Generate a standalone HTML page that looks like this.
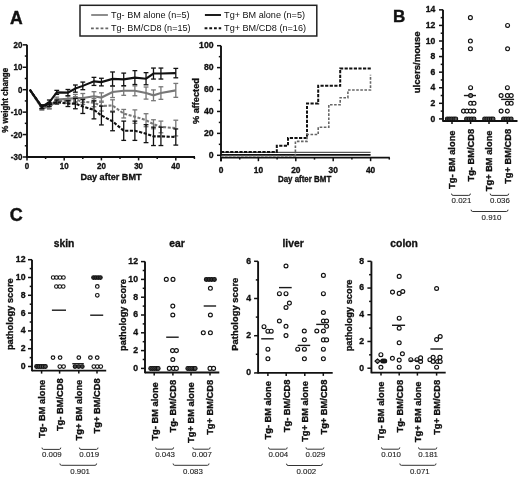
<!DOCTYPE html>
<html><head><meta charset="utf-8"><style>
html,body{margin:0;padding:0;background:#fff;}
svg{will-change:transform;filter:blur(0.3px);}
svg{display:block;font-family:"Liberation Sans", sans-serif;}
</style></head><body>
<svg width="520" height="477" viewBox="0 0 520 477">
<rect width="520" height="477" fill="#fff"/>
<text x="10.00" y="23.90" font-size="17.6" font-weight="bold" text-anchor="start" fill="#111" stroke="#111" stroke-width="0.4">A</text>
<text x="392.90" y="21.60" font-size="17.0" font-weight="bold" text-anchor="start" fill="#111" stroke="#111" stroke-width="0.4">B</text>
<text x="9.70" y="220.60" font-size="18.0" font-weight="bold" text-anchor="start" fill="#111" stroke="#111" stroke-width="0.4">C</text>
<rect x="80" y="5.3" width="236.8" height="30.7" fill="none" stroke="#222" stroke-width="1.5"/>
<line x1="91.20" y1="15.00" x2="107.90" y2="15.00" stroke="#808080" stroke-width="1.8" stroke-linecap="butt"/>
<line x1="91.00" y1="28.40" x2="108.20" y2="28.40" stroke="#666" stroke-width="1.7" stroke-dasharray="2.8,2.0" stroke-linecap="butt"/>
<line x1="204.90" y1="15.00" x2="221.00" y2="15.00" stroke="#111" stroke-width="1.9" stroke-linecap="butt"/>
<line x1="204.60" y1="28.30" x2="221.20" y2="28.30" stroke="#111" stroke-width="1.9" stroke-dasharray="2.8,1.9" stroke-linecap="butt"/>
<text x="111.00" y="18.10" font-size="9.1" font-weight="normal" text-anchor="start" fill="#111">Tg- BM alone (n=5)</text>
<text x="111.00" y="31.10" font-size="9.1" font-weight="normal" text-anchor="start" fill="#111">Tg- BM/CD8 (n=15)</text>
<text x="224.10" y="18.10" font-size="9.1" font-weight="normal" text-anchor="start" fill="#111">Tg+ BM alone (n=5)</text>
<text x="224.10" y="31.10" font-size="9.1" font-weight="normal" text-anchor="start" fill="#111">Tg+ BM/CD8 (n=16)</text>
<line x1="27.00" y1="44.84" x2="27.00" y2="157.70" stroke="#111" stroke-width="1.9" stroke-linecap="butt"/>
<line x1="26.20" y1="157.00" x2="195.00" y2="157.00" stroke="#111" stroke-width="1.9" stroke-linecap="butt"/>
<line x1="22.80" y1="156.99" x2="27.00" y2="156.99" stroke="#111" stroke-width="1.5" stroke-linecap="butt"/>
<text x="0.00" y="0.00" font-size="8.6" font-weight="bold" text-anchor="end" fill="#111" stroke="#111" stroke-width="0.33" transform="translate(22.40 159.99) scale(0.93 1)">-30</text>
<line x1="24.80" y1="145.78" x2="27.00" y2="145.78" stroke="#111" stroke-width="1.5" stroke-linecap="butt"/>
<line x1="22.80" y1="134.56" x2="27.00" y2="134.56" stroke="#111" stroke-width="1.5" stroke-linecap="butt"/>
<text x="0.00" y="0.00" font-size="8.6" font-weight="bold" text-anchor="end" fill="#111" stroke="#111" stroke-width="0.33" transform="translate(22.40 137.56) scale(0.93 1)">-20</text>
<line x1="24.80" y1="123.34" x2="27.00" y2="123.34" stroke="#111" stroke-width="1.5" stroke-linecap="butt"/>
<line x1="22.80" y1="112.13" x2="27.00" y2="112.13" stroke="#111" stroke-width="1.5" stroke-linecap="butt"/>
<text x="0.00" y="0.00" font-size="8.6" font-weight="bold" text-anchor="end" fill="#111" stroke="#111" stroke-width="0.33" transform="translate(22.40 115.13) scale(0.93 1)">-10</text>
<line x1="24.80" y1="100.92" x2="27.00" y2="100.92" stroke="#111" stroke-width="1.5" stroke-linecap="butt"/>
<line x1="22.80" y1="89.70" x2="27.00" y2="89.70" stroke="#111" stroke-width="1.5" stroke-linecap="butt"/>
<text x="0.00" y="0.00" font-size="8.6" font-weight="bold" text-anchor="end" fill="#111" stroke="#111" stroke-width="0.33" transform="translate(22.40 92.70) scale(0.93 1)">0</text>
<line x1="24.80" y1="78.48" x2="27.00" y2="78.48" stroke="#111" stroke-width="1.5" stroke-linecap="butt"/>
<line x1="22.80" y1="67.27" x2="27.00" y2="67.27" stroke="#111" stroke-width="1.5" stroke-linecap="butt"/>
<text x="0.00" y="0.00" font-size="8.6" font-weight="bold" text-anchor="end" fill="#111" stroke="#111" stroke-width="0.33" transform="translate(22.40 70.27) scale(0.93 1)">10</text>
<line x1="24.80" y1="56.06" x2="27.00" y2="56.06" stroke="#111" stroke-width="1.5" stroke-linecap="butt"/>
<line x1="22.80" y1="44.84" x2="27.00" y2="44.84" stroke="#111" stroke-width="1.5" stroke-linecap="butt"/>
<text x="0.00" y="0.00" font-size="8.6" font-weight="bold" text-anchor="end" fill="#111" stroke="#111" stroke-width="0.33" transform="translate(22.40 47.84) scale(0.93 1)">20</text>
<line x1="27.00" y1="157.00" x2="27.00" y2="160.40" stroke="#111" stroke-width="1.5" stroke-linecap="butt"/>
<text x="0.00" y="0.00" font-size="8.6" font-weight="bold" text-anchor="middle" fill="#111" stroke="#111" stroke-width="0.33" transform="translate(27.00 168.90) scale(0.93 1)">0</text>
<line x1="45.60" y1="157.00" x2="45.60" y2="159.00" stroke="#111" stroke-width="1.5" stroke-linecap="butt"/>
<line x1="64.20" y1="157.00" x2="64.20" y2="160.40" stroke="#111" stroke-width="1.5" stroke-linecap="butt"/>
<text x="0.00" y="0.00" font-size="8.6" font-weight="bold" text-anchor="middle" fill="#111" stroke="#111" stroke-width="0.33" transform="translate(64.20 168.90) scale(0.93 1)">10</text>
<line x1="82.80" y1="157.00" x2="82.80" y2="159.00" stroke="#111" stroke-width="1.5" stroke-linecap="butt"/>
<line x1="101.40" y1="157.00" x2="101.40" y2="160.40" stroke="#111" stroke-width="1.5" stroke-linecap="butt"/>
<text x="0.00" y="0.00" font-size="8.6" font-weight="bold" text-anchor="middle" fill="#111" stroke="#111" stroke-width="0.33" transform="translate(101.40 168.90) scale(0.93 1)">20</text>
<line x1="120.00" y1="157.00" x2="120.00" y2="159.00" stroke="#111" stroke-width="1.5" stroke-linecap="butt"/>
<line x1="138.60" y1="157.00" x2="138.60" y2="160.40" stroke="#111" stroke-width="1.5" stroke-linecap="butt"/>
<text x="0.00" y="0.00" font-size="8.6" font-weight="bold" text-anchor="middle" fill="#111" stroke="#111" stroke-width="0.33" transform="translate(138.60 168.90) scale(0.93 1)">30</text>
<line x1="157.20" y1="157.00" x2="157.20" y2="159.00" stroke="#111" stroke-width="1.5" stroke-linecap="butt"/>
<line x1="175.80" y1="157.00" x2="175.80" y2="160.40" stroke="#111" stroke-width="1.5" stroke-linecap="butt"/>
<text x="0.00" y="0.00" font-size="8.6" font-weight="bold" text-anchor="middle" fill="#111" stroke="#111" stroke-width="0.33" transform="translate(175.80 168.90) scale(0.93 1)">40</text>
<line x1="194.40" y1="157.00" x2="194.40" y2="159.00" stroke="#111" stroke-width="1.5" stroke-linecap="butt"/>
<text x="111.00" y="179.60" font-size="9.0" font-weight="bold" text-anchor="middle" fill="#111" stroke="#111" stroke-width="0.33" textLength="61.2" lengthAdjust="spacingAndGlyphs">Day after BMT</text>
<text x="0.00" y="0.00" font-size="8.8" font-weight="bold" text-anchor="middle" fill="#111" stroke="#111" stroke-width="0.33" transform="translate(8.20 100.30) rotate(-90) scale(0.91 1)">% weight change</text>
<line x1="41.88" y1="106.30" x2="41.88" y2="109.89" stroke="#777" stroke-width="1.3" stroke-linecap="butt"/>
<line x1="39.48" y1="106.30" x2="44.28" y2="106.30" stroke="#777" stroke-width="1.3" stroke-linecap="butt"/>
<line x1="39.48" y1="109.89" x2="44.28" y2="109.89" stroke="#777" stroke-width="1.3" stroke-linecap="butt"/>
<line x1="49.32" y1="104.50" x2="49.32" y2="108.99" stroke="#777" stroke-width="1.3" stroke-linecap="butt"/>
<line x1="46.92" y1="104.50" x2="51.72" y2="104.50" stroke="#777" stroke-width="1.3" stroke-linecap="butt"/>
<line x1="46.92" y1="108.99" x2="51.72" y2="108.99" stroke="#777" stroke-width="1.3" stroke-linecap="butt"/>
<line x1="56.76" y1="97.10" x2="56.76" y2="102.04" stroke="#777" stroke-width="1.3" stroke-linecap="butt"/>
<line x1="54.36" y1="97.10" x2="59.16" y2="97.10" stroke="#777" stroke-width="1.3" stroke-linecap="butt"/>
<line x1="54.36" y1="102.04" x2="59.16" y2="102.04" stroke="#777" stroke-width="1.3" stroke-linecap="butt"/>
<line x1="67.92" y1="95.98" x2="67.92" y2="101.81" stroke="#777" stroke-width="1.3" stroke-linecap="butt"/>
<line x1="65.52" y1="95.98" x2="70.32" y2="95.98" stroke="#777" stroke-width="1.3" stroke-linecap="butt"/>
<line x1="65.52" y1="101.81" x2="70.32" y2="101.81" stroke="#777" stroke-width="1.3" stroke-linecap="butt"/>
<line x1="75.36" y1="94.41" x2="75.36" y2="101.59" stroke="#777" stroke-width="1.3" stroke-linecap="butt"/>
<line x1="72.96" y1="94.41" x2="77.76" y2="94.41" stroke="#777" stroke-width="1.3" stroke-linecap="butt"/>
<line x1="72.96" y1="101.59" x2="77.76" y2="101.59" stroke="#777" stroke-width="1.3" stroke-linecap="butt"/>
<line x1="82.80" y1="93.51" x2="82.80" y2="102.49" stroke="#777" stroke-width="1.3" stroke-linecap="butt"/>
<line x1="80.40" y1="93.51" x2="85.20" y2="93.51" stroke="#777" stroke-width="1.3" stroke-linecap="butt"/>
<line x1="80.40" y1="102.49" x2="85.20" y2="102.49" stroke="#777" stroke-width="1.3" stroke-linecap="butt"/>
<line x1="93.96" y1="91.72" x2="93.96" y2="100.69" stroke="#777" stroke-width="1.3" stroke-linecap="butt"/>
<line x1="91.56" y1="91.72" x2="96.36" y2="91.72" stroke="#777" stroke-width="1.3" stroke-linecap="butt"/>
<line x1="91.56" y1="100.69" x2="96.36" y2="100.69" stroke="#777" stroke-width="1.3" stroke-linecap="butt"/>
<line x1="101.40" y1="92.84" x2="101.40" y2="102.26" stroke="#777" stroke-width="1.3" stroke-linecap="butt"/>
<line x1="99.00" y1="92.84" x2="103.80" y2="92.84" stroke="#777" stroke-width="1.3" stroke-linecap="butt"/>
<line x1="99.00" y1="102.26" x2="103.80" y2="102.26" stroke="#777" stroke-width="1.3" stroke-linecap="butt"/>
<line x1="112.56" y1="86.34" x2="112.56" y2="97.55" stroke="#777" stroke-width="1.3" stroke-linecap="butt"/>
<line x1="110.16" y1="86.34" x2="114.96" y2="86.34" stroke="#777" stroke-width="1.3" stroke-linecap="butt"/>
<line x1="110.16" y1="97.55" x2="114.96" y2="97.55" stroke="#777" stroke-width="1.3" stroke-linecap="butt"/>
<line x1="123.72" y1="86.11" x2="123.72" y2="95.31" stroke="#777" stroke-width="1.3" stroke-linecap="butt"/>
<line x1="121.32" y1="86.11" x2="126.12" y2="86.11" stroke="#777" stroke-width="1.3" stroke-linecap="butt"/>
<line x1="121.32" y1="95.31" x2="126.12" y2="95.31" stroke="#777" stroke-width="1.3" stroke-linecap="butt"/>
<line x1="134.88" y1="85.89" x2="134.88" y2="95.76" stroke="#777" stroke-width="1.3" stroke-linecap="butt"/>
<line x1="132.48" y1="85.89" x2="137.28" y2="85.89" stroke="#777" stroke-width="1.3" stroke-linecap="butt"/>
<line x1="132.48" y1="95.76" x2="137.28" y2="95.76" stroke="#777" stroke-width="1.3" stroke-linecap="butt"/>
<line x1="146.04" y1="87.01" x2="146.04" y2="99.12" stroke="#777" stroke-width="1.3" stroke-linecap="butt"/>
<line x1="143.64" y1="87.01" x2="148.44" y2="87.01" stroke="#777" stroke-width="1.3" stroke-linecap="butt"/>
<line x1="143.64" y1="99.12" x2="148.44" y2="99.12" stroke="#777" stroke-width="1.3" stroke-linecap="butt"/>
<line x1="153.48" y1="89.92" x2="153.48" y2="100.69" stroke="#777" stroke-width="1.3" stroke-linecap="butt"/>
<line x1="151.08" y1="89.92" x2="155.88" y2="89.92" stroke="#777" stroke-width="1.3" stroke-linecap="butt"/>
<line x1="151.08" y1="100.69" x2="155.88" y2="100.69" stroke="#777" stroke-width="1.3" stroke-linecap="butt"/>
<line x1="160.92" y1="86.78" x2="160.92" y2="99.34" stroke="#777" stroke-width="1.3" stroke-linecap="butt"/>
<line x1="158.52" y1="86.78" x2="163.32" y2="86.78" stroke="#777" stroke-width="1.3" stroke-linecap="butt"/>
<line x1="158.52" y1="99.34" x2="163.32" y2="99.34" stroke="#777" stroke-width="1.3" stroke-linecap="butt"/>
<line x1="175.80" y1="83.42" x2="175.80" y2="97.33" stroke="#777" stroke-width="1.3" stroke-linecap="butt"/>
<line x1="173.40" y1="83.42" x2="178.20" y2="83.42" stroke="#777" stroke-width="1.3" stroke-linecap="butt"/>
<line x1="173.40" y1="97.33" x2="178.20" y2="97.33" stroke="#777" stroke-width="1.3" stroke-linecap="butt"/>
<polyline points="29.79,89.70 41.88,108.09 49.32,106.75 56.76,99.57 67.92,98.90 75.36,98.00 82.80,98.00 93.96,96.20 101.40,97.55 112.56,91.94 123.72,90.71 134.88,90.82 146.04,93.06 153.48,95.31 160.92,93.06 175.80,90.37" fill="none" stroke="#777" stroke-width="2.1" stroke-linejoin="miter"/>
<line x1="41.88" y1="106.30" x2="41.88" y2="109.89" stroke="#777" stroke-width="1.3" stroke-linecap="butt"/>
<line x1="39.48" y1="106.30" x2="44.28" y2="106.30" stroke="#777" stroke-width="1.3" stroke-linecap="butt"/>
<line x1="39.48" y1="109.89" x2="44.28" y2="109.89" stroke="#777" stroke-width="1.3" stroke-linecap="butt"/>
<line x1="49.32" y1="104.95" x2="49.32" y2="108.54" stroke="#777" stroke-width="1.3" stroke-linecap="butt"/>
<line x1="46.92" y1="104.95" x2="51.72" y2="104.95" stroke="#777" stroke-width="1.3" stroke-linecap="butt"/>
<line x1="46.92" y1="108.54" x2="51.72" y2="108.54" stroke="#777" stroke-width="1.3" stroke-linecap="butt"/>
<line x1="56.76" y1="98.90" x2="56.76" y2="102.93" stroke="#777" stroke-width="1.3" stroke-linecap="butt"/>
<line x1="54.36" y1="98.90" x2="59.16" y2="98.90" stroke="#777" stroke-width="1.3" stroke-linecap="butt"/>
<line x1="54.36" y1="102.93" x2="59.16" y2="102.93" stroke="#777" stroke-width="1.3" stroke-linecap="butt"/>
<line x1="67.92" y1="98.45" x2="67.92" y2="103.38" stroke="#777" stroke-width="1.3" stroke-linecap="butt"/>
<line x1="65.52" y1="98.45" x2="70.32" y2="98.45" stroke="#777" stroke-width="1.3" stroke-linecap="butt"/>
<line x1="65.52" y1="103.38" x2="70.32" y2="103.38" stroke="#777" stroke-width="1.3" stroke-linecap="butt"/>
<line x1="75.36" y1="96.65" x2="75.36" y2="102.49" stroke="#777" stroke-width="1.3" stroke-linecap="butt"/>
<line x1="72.96" y1="96.65" x2="77.76" y2="96.65" stroke="#777" stroke-width="1.3" stroke-linecap="butt"/>
<line x1="72.96" y1="102.49" x2="77.76" y2="102.49" stroke="#777" stroke-width="1.3" stroke-linecap="butt"/>
<line x1="82.80" y1="98.67" x2="82.80" y2="104.50" stroke="#777" stroke-width="1.3" stroke-linecap="butt"/>
<line x1="80.40" y1="98.67" x2="85.20" y2="98.67" stroke="#777" stroke-width="1.3" stroke-linecap="butt"/>
<line x1="80.40" y1="104.50" x2="85.20" y2="104.50" stroke="#777" stroke-width="1.3" stroke-linecap="butt"/>
<line x1="93.96" y1="98.67" x2="93.96" y2="106.75" stroke="#777" stroke-width="1.3" stroke-linecap="butt"/>
<line x1="91.56" y1="98.67" x2="96.36" y2="98.67" stroke="#777" stroke-width="1.3" stroke-linecap="butt"/>
<line x1="91.56" y1="106.75" x2="96.36" y2="106.75" stroke="#777" stroke-width="1.3" stroke-linecap="butt"/>
<line x1="101.40" y1="101.14" x2="101.40" y2="111.01" stroke="#777" stroke-width="1.3" stroke-linecap="butt"/>
<line x1="99.00" y1="101.14" x2="103.80" y2="101.14" stroke="#777" stroke-width="1.3" stroke-linecap="butt"/>
<line x1="99.00" y1="111.01" x2="103.80" y2="111.01" stroke="#777" stroke-width="1.3" stroke-linecap="butt"/>
<line x1="112.56" y1="99.79" x2="112.56" y2="111.01" stroke="#777" stroke-width="1.3" stroke-linecap="butt"/>
<line x1="110.16" y1="99.79" x2="114.96" y2="99.79" stroke="#777" stroke-width="1.3" stroke-linecap="butt"/>
<line x1="110.16" y1="111.01" x2="114.96" y2="111.01" stroke="#777" stroke-width="1.3" stroke-linecap="butt"/>
<line x1="123.72" y1="109.44" x2="123.72" y2="117.96" stroke="#777" stroke-width="1.3" stroke-linecap="butt"/>
<line x1="121.32" y1="109.44" x2="126.12" y2="109.44" stroke="#777" stroke-width="1.3" stroke-linecap="butt"/>
<line x1="121.32" y1="117.96" x2="126.12" y2="117.96" stroke="#777" stroke-width="1.3" stroke-linecap="butt"/>
<line x1="134.88" y1="109.89" x2="134.88" y2="123.34" stroke="#777" stroke-width="1.3" stroke-linecap="butt"/>
<line x1="132.48" y1="109.89" x2="137.28" y2="109.89" stroke="#777" stroke-width="1.3" stroke-linecap="butt"/>
<line x1="132.48" y1="123.34" x2="137.28" y2="123.34" stroke="#777" stroke-width="1.3" stroke-linecap="butt"/>
<line x1="146.04" y1="113.70" x2="146.04" y2="126.71" stroke="#777" stroke-width="1.3" stroke-linecap="butt"/>
<line x1="143.64" y1="113.70" x2="148.44" y2="113.70" stroke="#777" stroke-width="1.3" stroke-linecap="butt"/>
<line x1="143.64" y1="126.71" x2="148.44" y2="126.71" stroke="#777" stroke-width="1.3" stroke-linecap="butt"/>
<line x1="153.48" y1="119.76" x2="153.48" y2="128.73" stroke="#777" stroke-width="1.3" stroke-linecap="butt"/>
<line x1="151.08" y1="119.76" x2="155.88" y2="119.76" stroke="#777" stroke-width="1.3" stroke-linecap="butt"/>
<line x1="151.08" y1="128.73" x2="155.88" y2="128.73" stroke="#777" stroke-width="1.3" stroke-linecap="butt"/>
<line x1="160.92" y1="121.10" x2="160.92" y2="132.77" stroke="#777" stroke-width="1.3" stroke-linecap="butt"/>
<line x1="158.52" y1="121.10" x2="163.32" y2="121.10" stroke="#777" stroke-width="1.3" stroke-linecap="butt"/>
<line x1="158.52" y1="132.77" x2="163.32" y2="132.77" stroke="#777" stroke-width="1.3" stroke-linecap="butt"/>
<line x1="175.80" y1="120.20" x2="175.80" y2="135.91" stroke="#777" stroke-width="1.3" stroke-linecap="butt"/>
<line x1="173.40" y1="120.20" x2="178.20" y2="120.20" stroke="#777" stroke-width="1.3" stroke-linecap="butt"/>
<line x1="173.40" y1="135.91" x2="178.20" y2="135.91" stroke="#777" stroke-width="1.3" stroke-linecap="butt"/>
<polyline points="29.79,89.70 41.88,108.09 49.32,106.75 56.76,100.92 67.92,100.92 75.36,99.57 82.80,101.59 93.96,102.71 101.40,106.07 112.56,105.40 123.72,113.70 134.88,116.62 146.04,120.20 153.48,124.24 160.92,126.93 175.80,128.06" fill="none" stroke="#777" stroke-width="2.1" stroke-dasharray="3,1.6" stroke-linejoin="miter"/>
<line x1="41.88" y1="104.95" x2="41.88" y2="108.54" stroke="#111" stroke-width="1.3" stroke-linecap="butt"/>
<line x1="39.48" y1="104.95" x2="44.28" y2="104.95" stroke="#111" stroke-width="1.3" stroke-linecap="butt"/>
<line x1="39.48" y1="108.54" x2="44.28" y2="108.54" stroke="#111" stroke-width="1.3" stroke-linecap="butt"/>
<line x1="49.32" y1="102.49" x2="49.32" y2="106.52" stroke="#111" stroke-width="1.3" stroke-linecap="butt"/>
<line x1="46.92" y1="102.49" x2="51.72" y2="102.49" stroke="#111" stroke-width="1.3" stroke-linecap="butt"/>
<line x1="46.92" y1="106.52" x2="51.72" y2="106.52" stroke="#111" stroke-width="1.3" stroke-linecap="butt"/>
<line x1="56.76" y1="100.02" x2="56.76" y2="104.06" stroke="#111" stroke-width="1.3" stroke-linecap="butt"/>
<line x1="54.36" y1="100.02" x2="59.16" y2="100.02" stroke="#111" stroke-width="1.3" stroke-linecap="butt"/>
<line x1="54.36" y1="104.06" x2="59.16" y2="104.06" stroke="#111" stroke-width="1.3" stroke-linecap="butt"/>
<line x1="67.92" y1="100.69" x2="67.92" y2="106.52" stroke="#111" stroke-width="1.3" stroke-linecap="butt"/>
<line x1="65.52" y1="100.69" x2="70.32" y2="100.69" stroke="#111" stroke-width="1.3" stroke-linecap="butt"/>
<line x1="65.52" y1="106.52" x2="70.32" y2="106.52" stroke="#111" stroke-width="1.3" stroke-linecap="butt"/>
<line x1="75.36" y1="98.45" x2="75.36" y2="108.77" stroke="#111" stroke-width="1.3" stroke-linecap="butt"/>
<line x1="72.96" y1="98.45" x2="77.76" y2="98.45" stroke="#111" stroke-width="1.3" stroke-linecap="butt"/>
<line x1="72.96" y1="108.77" x2="77.76" y2="108.77" stroke="#111" stroke-width="1.3" stroke-linecap="butt"/>
<line x1="82.80" y1="99.57" x2="82.80" y2="113.48" stroke="#111" stroke-width="1.3" stroke-linecap="butt"/>
<line x1="80.40" y1="99.57" x2="85.20" y2="99.57" stroke="#111" stroke-width="1.3" stroke-linecap="butt"/>
<line x1="80.40" y1="113.48" x2="85.20" y2="113.48" stroke="#111" stroke-width="1.3" stroke-linecap="butt"/>
<line x1="93.96" y1="100.92" x2="93.96" y2="118.86" stroke="#111" stroke-width="1.3" stroke-linecap="butt"/>
<line x1="91.56" y1="100.92" x2="96.36" y2="100.92" stroke="#111" stroke-width="1.3" stroke-linecap="butt"/>
<line x1="91.56" y1="118.86" x2="96.36" y2="118.86" stroke="#111" stroke-width="1.3" stroke-linecap="butt"/>
<line x1="101.40" y1="106.07" x2="101.40" y2="124.92" stroke="#111" stroke-width="1.3" stroke-linecap="butt"/>
<line x1="99.00" y1="106.07" x2="103.80" y2="106.07" stroke="#111" stroke-width="1.3" stroke-linecap="butt"/>
<line x1="99.00" y1="124.92" x2="103.80" y2="124.92" stroke="#111" stroke-width="1.3" stroke-linecap="butt"/>
<line x1="112.56" y1="111.91" x2="112.56" y2="130.75" stroke="#111" stroke-width="1.3" stroke-linecap="butt"/>
<line x1="110.16" y1="111.91" x2="114.96" y2="111.91" stroke="#111" stroke-width="1.3" stroke-linecap="butt"/>
<line x1="110.16" y1="130.75" x2="114.96" y2="130.75" stroke="#111" stroke-width="1.3" stroke-linecap="butt"/>
<line x1="123.72" y1="121.10" x2="123.72" y2="140.39" stroke="#111" stroke-width="1.3" stroke-linecap="butt"/>
<line x1="121.32" y1="121.10" x2="126.12" y2="121.10" stroke="#111" stroke-width="1.3" stroke-linecap="butt"/>
<line x1="121.32" y1="140.39" x2="126.12" y2="140.39" stroke="#111" stroke-width="1.3" stroke-linecap="butt"/>
<line x1="134.88" y1="121.10" x2="134.88" y2="140.39" stroke="#111" stroke-width="1.3" stroke-linecap="butt"/>
<line x1="132.48" y1="121.10" x2="137.28" y2="121.10" stroke="#111" stroke-width="1.3" stroke-linecap="butt"/>
<line x1="132.48" y1="140.39" x2="137.28" y2="140.39" stroke="#111" stroke-width="1.3" stroke-linecap="butt"/>
<line x1="146.04" y1="124.69" x2="146.04" y2="142.63" stroke="#111" stroke-width="1.3" stroke-linecap="butt"/>
<line x1="143.64" y1="124.69" x2="148.44" y2="124.69" stroke="#111" stroke-width="1.3" stroke-linecap="butt"/>
<line x1="143.64" y1="142.63" x2="148.44" y2="142.63" stroke="#111" stroke-width="1.3" stroke-linecap="butt"/>
<line x1="153.48" y1="127.16" x2="153.48" y2="145.55" stroke="#111" stroke-width="1.3" stroke-linecap="butt"/>
<line x1="151.08" y1="127.16" x2="155.88" y2="127.16" stroke="#111" stroke-width="1.3" stroke-linecap="butt"/>
<line x1="151.08" y1="145.55" x2="155.88" y2="145.55" stroke="#111" stroke-width="1.3" stroke-linecap="butt"/>
<line x1="160.92" y1="127.16" x2="160.92" y2="145.55" stroke="#111" stroke-width="1.3" stroke-linecap="butt"/>
<line x1="158.52" y1="127.16" x2="163.32" y2="127.16" stroke="#111" stroke-width="1.3" stroke-linecap="butt"/>
<line x1="158.52" y1="145.55" x2="163.32" y2="145.55" stroke="#111" stroke-width="1.3" stroke-linecap="butt"/>
<line x1="175.80" y1="128.95" x2="175.80" y2="145.10" stroke="#111" stroke-width="1.3" stroke-linecap="butt"/>
<line x1="173.40" y1="128.95" x2="178.20" y2="128.95" stroke="#111" stroke-width="1.3" stroke-linecap="butt"/>
<line x1="173.40" y1="145.10" x2="178.20" y2="145.10" stroke="#111" stroke-width="1.3" stroke-linecap="butt"/>
<polyline points="29.79,89.70 41.88,106.75 49.32,104.50 56.76,102.04 67.92,103.61 75.36,103.61 82.80,106.52 93.96,109.89 101.40,115.49 112.56,121.33 123.72,130.75 134.88,130.75 146.04,133.66 153.48,136.35 160.92,136.35 175.80,137.03" fill="none" stroke="#111" stroke-width="2.1" stroke-dasharray="3.2,1.5" stroke-linejoin="miter"/>
<line x1="41.88" y1="104.95" x2="41.88" y2="108.54" stroke="#111" stroke-width="1.3" stroke-linecap="butt"/>
<line x1="39.48" y1="104.95" x2="44.28" y2="104.95" stroke="#111" stroke-width="1.3" stroke-linecap="butt"/>
<line x1="39.48" y1="108.54" x2="44.28" y2="108.54" stroke="#111" stroke-width="1.3" stroke-linecap="butt"/>
<line x1="49.32" y1="100.02" x2="49.32" y2="104.50" stroke="#111" stroke-width="1.3" stroke-linecap="butt"/>
<line x1="46.92" y1="100.02" x2="51.72" y2="100.02" stroke="#111" stroke-width="1.3" stroke-linecap="butt"/>
<line x1="46.92" y1="104.50" x2="51.72" y2="104.50" stroke="#111" stroke-width="1.3" stroke-linecap="butt"/>
<line x1="56.76" y1="90.37" x2="56.76" y2="94.41" stroke="#111" stroke-width="1.3" stroke-linecap="butt"/>
<line x1="54.36" y1="90.37" x2="59.16" y2="90.37" stroke="#111" stroke-width="1.3" stroke-linecap="butt"/>
<line x1="54.36" y1="94.41" x2="59.16" y2="94.41" stroke="#111" stroke-width="1.3" stroke-linecap="butt"/>
<line x1="67.92" y1="89.48" x2="67.92" y2="95.76" stroke="#111" stroke-width="1.3" stroke-linecap="butt"/>
<line x1="65.52" y1="89.48" x2="70.32" y2="89.48" stroke="#111" stroke-width="1.3" stroke-linecap="butt"/>
<line x1="65.52" y1="95.76" x2="70.32" y2="95.76" stroke="#111" stroke-width="1.3" stroke-linecap="butt"/>
<line x1="75.36" y1="84.99" x2="75.36" y2="92.17" stroke="#111" stroke-width="1.3" stroke-linecap="butt"/>
<line x1="72.96" y1="84.99" x2="77.76" y2="84.99" stroke="#111" stroke-width="1.3" stroke-linecap="butt"/>
<line x1="72.96" y1="92.17" x2="77.76" y2="92.17" stroke="#111" stroke-width="1.3" stroke-linecap="butt"/>
<line x1="82.80" y1="82.07" x2="82.80" y2="89.70" stroke="#111" stroke-width="1.3" stroke-linecap="butt"/>
<line x1="80.40" y1="82.07" x2="85.20" y2="82.07" stroke="#111" stroke-width="1.3" stroke-linecap="butt"/>
<line x1="80.40" y1="89.70" x2="85.20" y2="89.70" stroke="#111" stroke-width="1.3" stroke-linecap="butt"/>
<line x1="93.96" y1="77.36" x2="93.96" y2="85.44" stroke="#111" stroke-width="1.3" stroke-linecap="butt"/>
<line x1="91.56" y1="77.36" x2="96.36" y2="77.36" stroke="#111" stroke-width="1.3" stroke-linecap="butt"/>
<line x1="91.56" y1="85.44" x2="96.36" y2="85.44" stroke="#111" stroke-width="1.3" stroke-linecap="butt"/>
<line x1="101.40" y1="78.26" x2="101.40" y2="85.89" stroke="#111" stroke-width="1.3" stroke-linecap="butt"/>
<line x1="99.00" y1="78.26" x2="103.80" y2="78.26" stroke="#111" stroke-width="1.3" stroke-linecap="butt"/>
<line x1="99.00" y1="85.89" x2="103.80" y2="85.89" stroke="#111" stroke-width="1.3" stroke-linecap="butt"/>
<line x1="112.56" y1="71.98" x2="112.56" y2="85.89" stroke="#111" stroke-width="1.3" stroke-linecap="butt"/>
<line x1="110.16" y1="71.98" x2="114.96" y2="71.98" stroke="#111" stroke-width="1.3" stroke-linecap="butt"/>
<line x1="110.16" y1="85.89" x2="114.96" y2="85.89" stroke="#111" stroke-width="1.3" stroke-linecap="butt"/>
<line x1="123.72" y1="73.10" x2="123.72" y2="85.66" stroke="#111" stroke-width="1.3" stroke-linecap="butt"/>
<line x1="121.32" y1="73.10" x2="126.12" y2="73.10" stroke="#111" stroke-width="1.3" stroke-linecap="butt"/>
<line x1="121.32" y1="85.66" x2="126.12" y2="85.66" stroke="#111" stroke-width="1.3" stroke-linecap="butt"/>
<line x1="134.88" y1="70.63" x2="134.88" y2="84.54" stroke="#111" stroke-width="1.3" stroke-linecap="butt"/>
<line x1="132.48" y1="70.63" x2="137.28" y2="70.63" stroke="#111" stroke-width="1.3" stroke-linecap="butt"/>
<line x1="132.48" y1="84.54" x2="137.28" y2="84.54" stroke="#111" stroke-width="1.3" stroke-linecap="butt"/>
<line x1="146.04" y1="72.65" x2="146.04" y2="84.77" stroke="#111" stroke-width="1.3" stroke-linecap="butt"/>
<line x1="143.64" y1="72.65" x2="148.44" y2="72.65" stroke="#111" stroke-width="1.3" stroke-linecap="butt"/>
<line x1="143.64" y1="84.77" x2="148.44" y2="84.77" stroke="#111" stroke-width="1.3" stroke-linecap="butt"/>
<line x1="153.48" y1="68.06" x2="153.48" y2="79.05" stroke="#111" stroke-width="1.3" stroke-linecap="butt"/>
<line x1="151.08" y1="68.06" x2="155.88" y2="68.06" stroke="#111" stroke-width="1.3" stroke-linecap="butt"/>
<line x1="151.08" y1="79.05" x2="155.88" y2="79.05" stroke="#111" stroke-width="1.3" stroke-linecap="butt"/>
<line x1="160.92" y1="68.06" x2="160.92" y2="79.05" stroke="#111" stroke-width="1.3" stroke-linecap="butt"/>
<line x1="158.52" y1="68.06" x2="163.32" y2="68.06" stroke="#111" stroke-width="1.3" stroke-linecap="butt"/>
<line x1="158.52" y1="79.05" x2="163.32" y2="79.05" stroke="#111" stroke-width="1.3" stroke-linecap="butt"/>
<line x1="175.80" y1="68.39" x2="175.80" y2="77.81" stroke="#111" stroke-width="1.3" stroke-linecap="butt"/>
<line x1="173.40" y1="68.39" x2="178.20" y2="68.39" stroke="#111" stroke-width="1.3" stroke-linecap="butt"/>
<line x1="173.40" y1="77.81" x2="178.20" y2="77.81" stroke="#111" stroke-width="1.3" stroke-linecap="butt"/>
<polyline points="29.79,89.70 41.88,106.75 49.32,102.26 56.76,92.39 67.92,92.62 75.36,88.58 82.80,85.89 93.96,81.40 101.40,82.07 112.56,78.93 123.72,79.38 134.88,77.59 146.04,78.71 153.48,73.55 160.92,73.55 175.80,73.10" fill="none" stroke="#111" stroke-width="2.1" stroke-linejoin="miter"/>
<line x1="221.00" y1="45.70" x2="221.00" y2="161.20" stroke="#111" stroke-width="1.9" stroke-linecap="butt"/>
<line x1="221.00" y1="157.60" x2="389.80" y2="157.60" stroke="#111" stroke-width="1.9" stroke-linecap="butt"/>
<line x1="217.00" y1="155.30" x2="221.00" y2="155.30" stroke="#111" stroke-width="1.5" stroke-linecap="butt"/>
<text x="213.60" y="157.80" font-size="8.7" font-weight="bold" text-anchor="end" fill="#111" stroke="#111" stroke-width="0.33">0</text>
<line x1="218.80" y1="144.34" x2="221.00" y2="144.34" stroke="#111" stroke-width="1.5" stroke-linecap="butt"/>
<line x1="217.00" y1="133.38" x2="221.00" y2="133.38" stroke="#111" stroke-width="1.5" stroke-linecap="butt"/>
<text x="213.60" y="135.88" font-size="8.7" font-weight="bold" text-anchor="end" fill="#111" stroke="#111" stroke-width="0.33">20</text>
<line x1="218.80" y1="122.42" x2="221.00" y2="122.42" stroke="#111" stroke-width="1.5" stroke-linecap="butt"/>
<line x1="217.00" y1="111.46" x2="221.00" y2="111.46" stroke="#111" stroke-width="1.5" stroke-linecap="butt"/>
<text x="213.60" y="113.96" font-size="8.7" font-weight="bold" text-anchor="end" fill="#111" stroke="#111" stroke-width="0.33">40</text>
<line x1="218.80" y1="100.50" x2="221.00" y2="100.50" stroke="#111" stroke-width="1.5" stroke-linecap="butt"/>
<line x1="217.00" y1="89.54" x2="221.00" y2="89.54" stroke="#111" stroke-width="1.5" stroke-linecap="butt"/>
<text x="213.60" y="92.04" font-size="8.7" font-weight="bold" text-anchor="end" fill="#111" stroke="#111" stroke-width="0.33">60</text>
<line x1="218.80" y1="78.58" x2="221.00" y2="78.58" stroke="#111" stroke-width="1.5" stroke-linecap="butt"/>
<line x1="217.00" y1="67.62" x2="221.00" y2="67.62" stroke="#111" stroke-width="1.5" stroke-linecap="butt"/>
<text x="213.60" y="70.12" font-size="8.7" font-weight="bold" text-anchor="end" fill="#111" stroke="#111" stroke-width="0.33">80</text>
<line x1="218.80" y1="56.66" x2="221.00" y2="56.66" stroke="#111" stroke-width="1.5" stroke-linecap="butt"/>
<line x1="217.00" y1="45.70" x2="221.00" y2="45.70" stroke="#111" stroke-width="1.5" stroke-linecap="butt"/>
<text x="213.60" y="48.20" font-size="8.7" font-weight="bold" text-anchor="end" fill="#111" stroke="#111" stroke-width="0.33">100</text>
<line x1="221.00" y1="157.60" x2="221.00" y2="161.20" stroke="#111" stroke-width="1.5" stroke-linecap="butt"/>
<text x="221.00" y="173.00" font-size="8.4" font-weight="bold" text-anchor="middle" fill="#111" stroke="#111" stroke-width="0.33">0</text>
<line x1="239.70" y1="157.60" x2="239.70" y2="159.60" stroke="#111" stroke-width="1.5" stroke-linecap="butt"/>
<line x1="258.40" y1="157.60" x2="258.40" y2="161.20" stroke="#111" stroke-width="1.5" stroke-linecap="butt"/>
<text x="258.40" y="173.00" font-size="8.4" font-weight="bold" text-anchor="middle" fill="#111" stroke="#111" stroke-width="0.33">10</text>
<line x1="277.10" y1="157.60" x2="277.10" y2="159.60" stroke="#111" stroke-width="1.5" stroke-linecap="butt"/>
<line x1="295.80" y1="157.60" x2="295.80" y2="161.20" stroke="#111" stroke-width="1.5" stroke-linecap="butt"/>
<text x="295.80" y="173.00" font-size="8.4" font-weight="bold" text-anchor="middle" fill="#111" stroke="#111" stroke-width="0.33">20</text>
<line x1="314.50" y1="157.60" x2="314.50" y2="159.60" stroke="#111" stroke-width="1.5" stroke-linecap="butt"/>
<line x1="333.20" y1="157.60" x2="333.20" y2="161.20" stroke="#111" stroke-width="1.5" stroke-linecap="butt"/>
<text x="333.20" y="173.00" font-size="8.4" font-weight="bold" text-anchor="middle" fill="#111" stroke="#111" stroke-width="0.33">30</text>
<line x1="351.90" y1="157.60" x2="351.90" y2="159.60" stroke="#111" stroke-width="1.5" stroke-linecap="butt"/>
<line x1="370.60" y1="157.60" x2="370.60" y2="161.20" stroke="#111" stroke-width="1.5" stroke-linecap="butt"/>
<text x="370.60" y="173.00" font-size="8.4" font-weight="bold" text-anchor="middle" fill="#111" stroke="#111" stroke-width="0.33">40</text>
<line x1="389.30" y1="157.60" x2="389.30" y2="159.60" stroke="#111" stroke-width="1.5" stroke-linecap="butt"/>
<text x="304.60" y="182.00" font-size="8.6" font-weight="bold" text-anchor="middle" fill="#111" stroke="#111" stroke-width="0.33" textLength="53.4" lengthAdjust="spacingAndGlyphs">Day after BMT</text>
<text x="199.40" y="101.10" font-size="9.2" font-weight="bold" text-anchor="middle" fill="#111" stroke="#111" stroke-width="0.33" transform="rotate(-90 199.40 101.10)">% affected</text>
<line x1="221.00" y1="152.40" x2="370.60" y2="152.40" stroke="#5a5a5a" stroke-width="1.3" stroke-linecap="butt"/>
<line x1="221.00" y1="154.80" x2="370.60" y2="154.80" stroke="#111" stroke-width="1.7" stroke-linecap="butt"/>
<line x1="221.00" y1="156.30" x2="295.80" y2="156.30" stroke="#888" stroke-width="1.0" stroke-dasharray="2.6,1.4" stroke-linecap="butt"/>
<polyline points="221.00,151.90 276.80,151.90 276.80,145.70 288.00,145.70 288.00,137.90 307.00,137.90 307.00,103.40 318.20,103.40 318.20,85.80 340.20,85.80 340.20,68.50 371.10,68.50" fill="none" stroke="#111" stroke-width="2.0" stroke-dasharray="3.2,1.4" stroke-linejoin="miter"/>
<polyline points="295.40,156.30 295.40,141.40 307.00,141.40 307.00,134.50 318.20,134.50 318.20,127.30 328.80,127.30 328.80,104.80 340.20,104.80 340.20,97.70 347.90,97.70 347.90,90.00 370.50,90.00 370.50,74.80" fill="none" stroke="#666" stroke-width="1.6" stroke-dasharray="2.6,1.5" stroke-linejoin="miter"/>
<line x1="443.00" y1="9.84" x2="443.00" y2="121.70" stroke="#111" stroke-width="1.9" stroke-linecap="butt"/>
<line x1="443.00" y1="121.00" x2="517.50" y2="121.00" stroke="#111" stroke-width="1.9" stroke-linecap="butt"/>
<line x1="439.00" y1="118.90" x2="443.00" y2="118.90" stroke="#111" stroke-width="1.5" stroke-linecap="butt"/>
<text x="435.20" y="121.50" font-size="8.6" font-weight="bold" text-anchor="end" fill="#111" stroke="#111" stroke-width="0.33">0</text>
<line x1="440.70" y1="111.11" x2="443.00" y2="111.11" stroke="#111" stroke-width="1.5" stroke-linecap="butt"/>
<line x1="439.00" y1="103.32" x2="443.00" y2="103.32" stroke="#111" stroke-width="1.5" stroke-linecap="butt"/>
<text x="435.20" y="105.92" font-size="8.6" font-weight="bold" text-anchor="end" fill="#111" stroke="#111" stroke-width="0.33">2</text>
<line x1="440.70" y1="95.53" x2="443.00" y2="95.53" stroke="#111" stroke-width="1.5" stroke-linecap="butt"/>
<line x1="439.00" y1="87.74" x2="443.00" y2="87.74" stroke="#111" stroke-width="1.5" stroke-linecap="butt"/>
<text x="435.20" y="90.34" font-size="8.6" font-weight="bold" text-anchor="end" fill="#111" stroke="#111" stroke-width="0.33">4</text>
<line x1="440.70" y1="79.95" x2="443.00" y2="79.95" stroke="#111" stroke-width="1.5" stroke-linecap="butt"/>
<line x1="439.00" y1="72.16" x2="443.00" y2="72.16" stroke="#111" stroke-width="1.5" stroke-linecap="butt"/>
<text x="435.20" y="74.76" font-size="8.6" font-weight="bold" text-anchor="end" fill="#111" stroke="#111" stroke-width="0.33">6</text>
<line x1="440.70" y1="64.37" x2="443.00" y2="64.37" stroke="#111" stroke-width="1.5" stroke-linecap="butt"/>
<line x1="439.00" y1="56.58" x2="443.00" y2="56.58" stroke="#111" stroke-width="1.5" stroke-linecap="butt"/>
<text x="435.20" y="59.18" font-size="8.6" font-weight="bold" text-anchor="end" fill="#111" stroke="#111" stroke-width="0.33">8</text>
<line x1="440.70" y1="48.79" x2="443.00" y2="48.79" stroke="#111" stroke-width="1.5" stroke-linecap="butt"/>
<line x1="439.00" y1="41.00" x2="443.00" y2="41.00" stroke="#111" stroke-width="1.5" stroke-linecap="butt"/>
<text x="435.20" y="43.60" font-size="8.6" font-weight="bold" text-anchor="end" fill="#111" stroke="#111" stroke-width="0.33">10</text>
<line x1="440.70" y1="33.21" x2="443.00" y2="33.21" stroke="#111" stroke-width="1.5" stroke-linecap="butt"/>
<line x1="439.00" y1="25.42" x2="443.00" y2="25.42" stroke="#111" stroke-width="1.5" stroke-linecap="butt"/>
<text x="435.20" y="28.02" font-size="8.6" font-weight="bold" text-anchor="end" fill="#111" stroke="#111" stroke-width="0.33">12</text>
<line x1="440.70" y1="17.63" x2="443.00" y2="17.63" stroke="#111" stroke-width="1.5" stroke-linecap="butt"/>
<line x1="439.00" y1="9.84" x2="443.00" y2="9.84" stroke="#111" stroke-width="1.5" stroke-linecap="butt"/>
<text x="435.20" y="12.44" font-size="8.6" font-weight="bold" text-anchor="end" fill="#111" stroke="#111" stroke-width="0.33">14</text>
<line x1="452.00" y1="121.00" x2="452.00" y2="124.00" stroke="#111" stroke-width="1.5" stroke-linecap="butt"/>
<line x1="470.60" y1="121.00" x2="470.60" y2="124.00" stroke="#111" stroke-width="1.5" stroke-linecap="butt"/>
<line x1="489.00" y1="121.00" x2="489.00" y2="124.00" stroke="#111" stroke-width="1.5" stroke-linecap="butt"/>
<line x1="507.40" y1="121.00" x2="507.40" y2="124.00" stroke="#111" stroke-width="1.5" stroke-linecap="butt"/>
<text x="420.30" y="62.30" font-size="9.6" font-weight="bold" text-anchor="middle" fill="#111" stroke="#111" stroke-width="0.33" transform="rotate(-90 420.30 62.30)">ulcers/mouse</text>
<circle cx="447.30" cy="118.90" r="1.9" fill="#555" stroke="#111" stroke-width="1.15"/>
<circle cx="449.50" cy="118.90" r="1.9" fill="#555" stroke="#111" stroke-width="1.15"/>
<circle cx="451.70" cy="118.90" r="1.9" fill="#555" stroke="#111" stroke-width="1.15"/>
<circle cx="453.90" cy="118.90" r="1.9" fill="#555" stroke="#111" stroke-width="1.15"/>
<circle cx="455.80" cy="118.90" r="1.9" fill="#555" stroke="#111" stroke-width="1.15"/>
<line x1="445.50" y1="118.90" x2="449.00" y2="118.90" stroke="#222" stroke-width="1.3" stroke-linecap="butt"/>
<circle cx="466.50" cy="118.90" r="1.9" fill="#555" stroke="#111" stroke-width="1.15"/>
<circle cx="469.00" cy="118.90" r="1.9" fill="#555" stroke="#111" stroke-width="1.15"/>
<circle cx="471.50" cy="118.90" r="1.9" fill="#555" stroke="#111" stroke-width="1.15"/>
<circle cx="474.00" cy="118.90" r="1.9" fill="#555" stroke="#111" stroke-width="1.15"/>
<circle cx="463.50" cy="111.11" r="1.95" fill="#fff" stroke="#111" stroke-width="1.15"/>
<circle cx="466.90" cy="111.11" r="1.95" fill="#fff" stroke="#111" stroke-width="1.15"/>
<circle cx="470.40" cy="111.11" r="1.95" fill="#fff" stroke="#111" stroke-width="1.15"/>
<circle cx="473.90" cy="111.11" r="1.95" fill="#fff" stroke="#111" stroke-width="1.15"/>
<circle cx="470.60" cy="103.32" r="1.95" fill="#fff" stroke="#111" stroke-width="1.15"/>
<circle cx="474.00" cy="103.32" r="1.95" fill="#fff" stroke="#111" stroke-width="1.15"/>
<line x1="463.90" y1="95.53" x2="476.00" y2="95.53" stroke="#1a1a1a" stroke-width="1.4" stroke-linecap="butt"/>
<circle cx="470.60" cy="95.53" r="1.95" fill="#888" stroke="#111" stroke-width="1.15"/>
<circle cx="470.60" cy="87.74" r="1.95" fill="#fff" stroke="#111" stroke-width="1.15"/>
<circle cx="470.40" cy="48.79" r="1.95" fill="#fff" stroke="#111" stroke-width="1.15"/>
<circle cx="470.40" cy="41.00" r="1.95" fill="#fff" stroke="#111" stroke-width="1.15"/>
<circle cx="470.40" cy="17.63" r="1.95" fill="#fff" stroke="#111" stroke-width="1.15"/>
<circle cx="484.60" cy="118.90" r="1.9" fill="#555" stroke="#111" stroke-width="1.15"/>
<circle cx="486.80" cy="118.90" r="1.9" fill="#555" stroke="#111" stroke-width="1.15"/>
<circle cx="489.00" cy="118.90" r="1.9" fill="#555" stroke="#111" stroke-width="1.15"/>
<circle cx="491.20" cy="118.90" r="1.9" fill="#555" stroke="#111" stroke-width="1.15"/>
<circle cx="493.10" cy="118.90" r="1.9" fill="#555" stroke="#111" stroke-width="1.15"/>
<circle cx="503.50" cy="118.90" r="1.9" fill="#555" stroke="#111" stroke-width="1.15"/>
<circle cx="506.00" cy="118.90" r="1.9" fill="#555" stroke="#111" stroke-width="1.15"/>
<circle cx="508.50" cy="118.90" r="1.9" fill="#555" stroke="#111" stroke-width="1.15"/>
<circle cx="511.20" cy="118.90" r="1.9" fill="#555" stroke="#111" stroke-width="1.15"/>
<circle cx="501.10" cy="111.11" r="1.95" fill="#fff" stroke="#111" stroke-width="1.15"/>
<circle cx="507.40" cy="111.11" r="1.95" fill="#fff" stroke="#111" stroke-width="1.15"/>
<circle cx="507.40" cy="103.32" r="1.95" fill="#fff" stroke="#111" stroke-width="1.15"/>
<circle cx="511.20" cy="103.32" r="1.95" fill="#fff" stroke="#111" stroke-width="1.15"/>
<circle cx="501.10" cy="95.53" r="1.95" fill="#fff" stroke="#111" stroke-width="1.15"/>
<circle cx="507.40" cy="95.53" r="1.95" fill="#fff" stroke="#111" stroke-width="1.15"/>
<circle cx="511.20" cy="95.53" r="1.95" fill="#fff" stroke="#111" stroke-width="1.15"/>
<circle cx="507.40" cy="87.74" r="1.95" fill="#fff" stroke="#111" stroke-width="1.15"/>
<circle cx="507.60" cy="48.79" r="1.95" fill="#fff" stroke="#111" stroke-width="1.15"/>
<circle cx="507.60" cy="25.42" r="1.95" fill="#fff" stroke="#111" stroke-width="1.15"/>
<line x1="501.10" y1="99.40" x2="514.10" y2="99.40" stroke="#1a1a1a" stroke-width="1.4" stroke-linecap="butt"/>
<text x="455.40" y="130.50" font-size="9.3" font-weight="bold" text-anchor="end" fill="#111" stroke="#111" stroke-width="0.33" transform="rotate(-90 455.40 130.50)">Tg- BM alone</text>
<text x="474.00" y="128.80" font-size="9.3" font-weight="bold" text-anchor="end" fill="#111" stroke="#111" stroke-width="0.33" transform="rotate(-90 474.00 128.80)">Tg- BM/CD8</text>
<text x="492.40" y="130.50" font-size="9.3" font-weight="bold" text-anchor="end" fill="#111" stroke="#111" stroke-width="0.33" transform="rotate(-90 492.40 130.50)">Tg+ BM alone</text>
<text x="510.80" y="128.80" font-size="9.3" font-weight="bold" text-anchor="end" fill="#111" stroke="#111" stroke-width="0.33" transform="rotate(-90 510.80 128.80)">Tg+ BM/CD8</text>
<path d="M451.50,193.60 Q451.50,195.40 453.10,195.40 L468.80,195.40 Q470.40,195.40 470.40,193.60" fill="none" stroke="#333" stroke-width="1.0"/>
<text x="461.45" y="202.50" font-size="7.9" font-weight="normal" text-anchor="middle" fill="#222" stroke="#222" stroke-width="0.12">0.021</text>
<path d="M490.20,193.60 Q490.20,195.40 491.80,195.40 L507.10,195.40 Q508.70,195.40 508.70,193.60" fill="none" stroke="#333" stroke-width="1.0"/>
<text x="499.95" y="202.50" font-size="7.9" font-weight="normal" text-anchor="middle" fill="#222" stroke="#222" stroke-width="0.12">0.036</text>
<path d="M471.10,209.70 Q471.10,211.50 472.70,211.50 L506.40,211.50 Q508.00,211.50 508.00,209.70" fill="none" stroke="#333" stroke-width="1.0"/>
<text x="491.45" y="220.20" font-size="7.9" font-weight="normal" text-anchor="middle" fill="#222" stroke="#222" stroke-width="0.12">0.910</text>
<line x1="32.00" y1="259.70" x2="32.00" y2="371.30" stroke="#111" stroke-width="1.9" stroke-linecap="butt"/>
<line x1="32.00" y1="370.60" x2="106.20" y2="370.60" stroke="#111" stroke-width="1.9" stroke-linecap="butt"/>
<line x1="28.00" y1="366.50" x2="32.00" y2="366.50" stroke="#111" stroke-width="1.5" stroke-linecap="butt"/>
<text x="25.50" y="368.90" font-size="8.7" font-weight="bold" text-anchor="end" fill="#111" stroke="#111" stroke-width="0.33">0</text>
<line x1="29.70" y1="357.60" x2="32.00" y2="357.60" stroke="#111" stroke-width="1.5" stroke-linecap="butt"/>
<line x1="28.00" y1="348.70" x2="32.00" y2="348.70" stroke="#111" stroke-width="1.5" stroke-linecap="butt"/>
<text x="25.50" y="351.10" font-size="8.7" font-weight="bold" text-anchor="end" fill="#111" stroke="#111" stroke-width="0.33">2</text>
<line x1="29.70" y1="339.80" x2="32.00" y2="339.80" stroke="#111" stroke-width="1.5" stroke-linecap="butt"/>
<line x1="28.00" y1="330.90" x2="32.00" y2="330.90" stroke="#111" stroke-width="1.5" stroke-linecap="butt"/>
<text x="25.50" y="333.30" font-size="8.7" font-weight="bold" text-anchor="end" fill="#111" stroke="#111" stroke-width="0.33">4</text>
<line x1="29.70" y1="322.00" x2="32.00" y2="322.00" stroke="#111" stroke-width="1.5" stroke-linecap="butt"/>
<line x1="28.00" y1="313.10" x2="32.00" y2="313.10" stroke="#111" stroke-width="1.5" stroke-linecap="butt"/>
<text x="25.50" y="315.50" font-size="8.7" font-weight="bold" text-anchor="end" fill="#111" stroke="#111" stroke-width="0.33">6</text>
<line x1="29.70" y1="304.20" x2="32.00" y2="304.20" stroke="#111" stroke-width="1.5" stroke-linecap="butt"/>
<line x1="28.00" y1="295.30" x2="32.00" y2="295.30" stroke="#111" stroke-width="1.5" stroke-linecap="butt"/>
<text x="25.50" y="297.70" font-size="8.7" font-weight="bold" text-anchor="end" fill="#111" stroke="#111" stroke-width="0.33">8</text>
<line x1="29.70" y1="286.40" x2="32.00" y2="286.40" stroke="#111" stroke-width="1.5" stroke-linecap="butt"/>
<line x1="28.00" y1="277.50" x2="32.00" y2="277.50" stroke="#111" stroke-width="1.5" stroke-linecap="butt"/>
<text x="25.50" y="279.90" font-size="8.7" font-weight="bold" text-anchor="end" fill="#111" stroke="#111" stroke-width="0.33">10</text>
<line x1="29.70" y1="268.60" x2="32.00" y2="268.60" stroke="#111" stroke-width="1.5" stroke-linecap="butt"/>
<line x1="28.00" y1="259.70" x2="32.00" y2="259.70" stroke="#111" stroke-width="1.5" stroke-linecap="butt"/>
<text x="25.50" y="262.10" font-size="8.7" font-weight="bold" text-anchor="end" fill="#111" stroke="#111" stroke-width="0.33">12</text>
<line x1="41.60" y1="370.60" x2="41.60" y2="373.60" stroke="#111" stroke-width="1.5" stroke-linecap="butt"/>
<line x1="59.60" y1="370.60" x2="59.60" y2="373.60" stroke="#111" stroke-width="1.5" stroke-linecap="butt"/>
<line x1="78.80" y1="370.60" x2="78.80" y2="373.60" stroke="#111" stroke-width="1.5" stroke-linecap="butt"/>
<line x1="97.00" y1="370.60" x2="97.00" y2="373.60" stroke="#111" stroke-width="1.5" stroke-linecap="butt"/>
<text x="64.00" y="246.70" font-size="10.3" font-weight="bold" text-anchor="middle" fill="#111" stroke="#111" stroke-width="0.33">skin</text>
<text x="13.00" y="314.20" font-size="9.3" font-weight="bold" text-anchor="middle" fill="#111" stroke="#111" stroke-width="0.33" transform="rotate(-90 13.00 314.20)">pathology score</text>
<text x="45.00" y="379.70" font-size="9.3" font-weight="bold" text-anchor="end" fill="#111" stroke="#111" stroke-width="0.33" transform="rotate(-90 45.00 379.70)">Tg- BM alone</text>
<text x="63.00" y="378.40" font-size="9.3" font-weight="bold" text-anchor="end" fill="#111" stroke="#111" stroke-width="0.33" transform="rotate(-90 63.00 378.40)">Tg- BM/CD8</text>
<text x="82.20" y="379.70" font-size="9.3" font-weight="bold" text-anchor="end" fill="#111" stroke="#111" stroke-width="0.33" transform="rotate(-90 82.20 379.70)">Tg+ BM alone</text>
<text x="100.40" y="378.40" font-size="9.3" font-weight="bold" text-anchor="end" fill="#111" stroke="#111" stroke-width="0.33" transform="rotate(-90 100.40 378.40)">Tg+ BM/CD8</text>
<circle cx="36.60" cy="366.50" r="1.9" fill="#555" stroke="#111" stroke-width="1.15"/>
<circle cx="38.80" cy="366.50" r="1.9" fill="#555" stroke="#111" stroke-width="1.15"/>
<circle cx="41.00" cy="366.50" r="1.9" fill="#555" stroke="#111" stroke-width="1.15"/>
<circle cx="43.20" cy="366.50" r="1.9" fill="#555" stroke="#111" stroke-width="1.15"/>
<circle cx="45.40" cy="366.50" r="1.9" fill="#555" stroke="#111" stroke-width="1.15"/>
<line x1="34.80" y1="366.50" x2="38.00" y2="366.50" stroke="#222" stroke-width="1.3" stroke-linecap="butt"/>
<circle cx="53.10" cy="277.50" r="1.75" fill="#fff" stroke="#111" stroke-width="1.05"/>
<circle cx="56.50" cy="277.50" r="1.75" fill="#fff" stroke="#111" stroke-width="1.05"/>
<circle cx="60.00" cy="277.50" r="1.75" fill="#fff" stroke="#111" stroke-width="1.05"/>
<circle cx="63.50" cy="277.50" r="1.75" fill="#fff" stroke="#111" stroke-width="1.05"/>
<circle cx="56.30" cy="286.40" r="1.75" fill="#fff" stroke="#111" stroke-width="1.05"/>
<circle cx="59.80" cy="286.40" r="1.75" fill="#fff" stroke="#111" stroke-width="1.05"/>
<circle cx="63.30" cy="286.40" r="1.75" fill="#fff" stroke="#111" stroke-width="1.05"/>
<line x1="51.90" y1="310.20" x2="66.00" y2="310.20" stroke="#1a1a1a" stroke-width="1.4" stroke-linecap="butt"/>
<circle cx="53.00" cy="357.60" r="1.8" fill="#fff" stroke="#111" stroke-width="1.15"/>
<circle cx="60.10" cy="357.60" r="1.8" fill="#fff" stroke="#111" stroke-width="1.15"/>
<circle cx="59.80" cy="366.50" r="1.8" fill="#fff" stroke="#111" stroke-width="1.15"/>
<circle cx="63.60" cy="366.50" r="1.8" fill="#fff" stroke="#111" stroke-width="1.15"/>
<line x1="72.30" y1="363.70" x2="83.80" y2="363.70" stroke="#222" stroke-width="1.4" stroke-linecap="butt"/>
<circle cx="75.00" cy="366.50" r="1.8" fill="#444" stroke="#111" stroke-width="1.15"/>
<circle cx="78.70" cy="366.50" r="1.8" fill="#444" stroke="#111" stroke-width="1.15"/>
<circle cx="82.30" cy="366.50" r="1.8" fill="#444" stroke="#111" stroke-width="1.15"/>
<circle cx="78.80" cy="357.60" r="1.8" fill="#fff" stroke="#111" stroke-width="1.15"/>
<circle cx="90.40" cy="357.60" r="1.8" fill="#fff" stroke="#111" stroke-width="1.15"/>
<circle cx="97.20" cy="357.60" r="1.8" fill="#fff" stroke="#111" stroke-width="1.15"/>
<circle cx="93.80" cy="366.50" r="1.8" fill="#fff" stroke="#111" stroke-width="1.15"/>
<circle cx="97.30" cy="366.50" r="1.8" fill="#fff" stroke="#111" stroke-width="1.15"/>
<circle cx="100.80" cy="366.50" r="1.8" fill="#fff" stroke="#111" stroke-width="1.15"/>
<circle cx="93.50" cy="277.50" r="1.8" fill="#333" stroke="#111" stroke-width="1.15"/>
<circle cx="95.80" cy="277.50" r="1.8" fill="#333" stroke="#111" stroke-width="1.15"/>
<circle cx="98.10" cy="277.50" r="1.8" fill="#333" stroke="#111" stroke-width="1.15"/>
<circle cx="100.40" cy="277.50" r="1.8" fill="#333" stroke="#111" stroke-width="1.15"/>
<circle cx="97.30" cy="286.40" r="1.8" fill="#fff" stroke="#111" stroke-width="1.15"/>
<circle cx="97.30" cy="295.30" r="1.8" fill="#fff" stroke="#111" stroke-width="1.15"/>
<line x1="90.20" y1="315.20" x2="103.20" y2="315.20" stroke="#1a1a1a" stroke-width="1.4" stroke-linecap="butt"/>
<path d="M42.00,447.60 Q42.00,449.40 43.60,449.40 L59.20,449.40 Q60.80,449.40 60.80,447.60" fill="none" stroke="#333" stroke-width="1.0"/>
<text x="51.90" y="457.40" font-size="7.9" font-weight="normal" text-anchor="middle" fill="#222" stroke="#222" stroke-width="0.12">0.009</text>
<path d="M79.40,447.60 Q79.40,449.40 81.00,449.40 L96.40,449.40 Q98.00,449.40 98.00,447.60" fill="none" stroke="#333" stroke-width="1.0"/>
<text x="89.20" y="457.40" font-size="7.9" font-weight="normal" text-anchor="middle" fill="#222" stroke="#222" stroke-width="0.12">0.019</text>
<path d="M59.90,463.50 Q59.90,465.30 61.50,465.30 L95.00,465.30 Q96.60,465.30 96.60,463.50" fill="none" stroke="#333" stroke-width="1.0"/>
<text x="80.15" y="474.00" font-size="7.9" font-weight="normal" text-anchor="middle" fill="#222" stroke="#222" stroke-width="0.12">0.901</text>
<line x1="145.00" y1="261.60" x2="145.00" y2="373.20" stroke="#111" stroke-width="1.9" stroke-linecap="butt"/>
<line x1="145.00" y1="372.50" x2="219.30" y2="372.50" stroke="#111" stroke-width="1.9" stroke-linecap="butt"/>
<line x1="141.00" y1="368.40" x2="145.00" y2="368.40" stroke="#111" stroke-width="1.5" stroke-linecap="butt"/>
<text x="138.00" y="370.80" font-size="8.7" font-weight="bold" text-anchor="end" fill="#111" stroke="#111" stroke-width="0.33">0</text>
<line x1="142.70" y1="359.50" x2="145.00" y2="359.50" stroke="#111" stroke-width="1.5" stroke-linecap="butt"/>
<line x1="141.00" y1="350.60" x2="145.00" y2="350.60" stroke="#111" stroke-width="1.5" stroke-linecap="butt"/>
<text x="138.00" y="353.00" font-size="8.7" font-weight="bold" text-anchor="end" fill="#111" stroke="#111" stroke-width="0.33">2</text>
<line x1="142.70" y1="341.70" x2="145.00" y2="341.70" stroke="#111" stroke-width="1.5" stroke-linecap="butt"/>
<line x1="141.00" y1="332.80" x2="145.00" y2="332.80" stroke="#111" stroke-width="1.5" stroke-linecap="butt"/>
<text x="138.00" y="335.20" font-size="8.7" font-weight="bold" text-anchor="end" fill="#111" stroke="#111" stroke-width="0.33">4</text>
<line x1="142.70" y1="323.90" x2="145.00" y2="323.90" stroke="#111" stroke-width="1.5" stroke-linecap="butt"/>
<line x1="141.00" y1="315.00" x2="145.00" y2="315.00" stroke="#111" stroke-width="1.5" stroke-linecap="butt"/>
<text x="138.00" y="317.40" font-size="8.7" font-weight="bold" text-anchor="end" fill="#111" stroke="#111" stroke-width="0.33">6</text>
<line x1="142.70" y1="306.10" x2="145.00" y2="306.10" stroke="#111" stroke-width="1.5" stroke-linecap="butt"/>
<line x1="141.00" y1="297.20" x2="145.00" y2="297.20" stroke="#111" stroke-width="1.5" stroke-linecap="butt"/>
<text x="138.00" y="299.60" font-size="8.7" font-weight="bold" text-anchor="end" fill="#111" stroke="#111" stroke-width="0.33">8</text>
<line x1="142.70" y1="288.30" x2="145.00" y2="288.30" stroke="#111" stroke-width="1.5" stroke-linecap="butt"/>
<line x1="141.00" y1="279.40" x2="145.00" y2="279.40" stroke="#111" stroke-width="1.5" stroke-linecap="butt"/>
<text x="138.00" y="281.80" font-size="8.7" font-weight="bold" text-anchor="end" fill="#111" stroke="#111" stroke-width="0.33">10</text>
<line x1="142.70" y1="270.50" x2="145.00" y2="270.50" stroke="#111" stroke-width="1.5" stroke-linecap="butt"/>
<line x1="141.00" y1="261.60" x2="145.00" y2="261.60" stroke="#111" stroke-width="1.5" stroke-linecap="butt"/>
<text x="138.00" y="264.00" font-size="8.7" font-weight="bold" text-anchor="end" fill="#111" stroke="#111" stroke-width="0.33">12</text>
<line x1="154.20" y1="372.50" x2="154.20" y2="375.50" stroke="#111" stroke-width="1.5" stroke-linecap="butt"/>
<line x1="172.90" y1="372.50" x2="172.90" y2="375.50" stroke="#111" stroke-width="1.5" stroke-linecap="butt"/>
<line x1="191.00" y1="372.50" x2="191.00" y2="375.50" stroke="#111" stroke-width="1.5" stroke-linecap="butt"/>
<line x1="210.00" y1="372.50" x2="210.00" y2="375.50" stroke="#111" stroke-width="1.5" stroke-linecap="butt"/>
<text x="177.00" y="246.70" font-size="10.3" font-weight="bold" text-anchor="middle" fill="#111" stroke="#111" stroke-width="0.33">ear</text>
<text x="125.80" y="315.00" font-size="9.3" font-weight="bold" text-anchor="middle" fill="#111" stroke="#111" stroke-width="0.33" transform="rotate(-90 125.80 315.00)">pathology score</text>
<text x="157.60" y="382.20" font-size="9.3" font-weight="bold" text-anchor="end" fill="#111" stroke="#111" stroke-width="0.33" transform="rotate(-90 157.60 382.20)">Tg- BM alone</text>
<text x="176.30" y="379.80" font-size="9.3" font-weight="bold" text-anchor="end" fill="#111" stroke="#111" stroke-width="0.33" transform="rotate(-90 176.30 379.80)">Tg- BM/CD8</text>
<text x="194.40" y="382.20" font-size="9.3" font-weight="bold" text-anchor="end" fill="#111" stroke="#111" stroke-width="0.33" transform="rotate(-90 194.40 382.20)">Tg+ BM alone</text>
<text x="213.40" y="379.80" font-size="9.3" font-weight="bold" text-anchor="end" fill="#111" stroke="#111" stroke-width="0.33" transform="rotate(-90 213.40 379.80)">Tg+ BM/CD8</text>
<circle cx="150.70" cy="368.40" r="1.9" fill="#555" stroke="#111" stroke-width="1.15"/>
<circle cx="152.70" cy="368.40" r="1.9" fill="#555" stroke="#111" stroke-width="1.15"/>
<circle cx="154.70" cy="368.40" r="1.9" fill="#555" stroke="#111" stroke-width="1.15"/>
<circle cx="156.70" cy="368.40" r="1.9" fill="#555" stroke="#111" stroke-width="1.15"/>
<circle cx="158.20" cy="368.40" r="1.9" fill="#555" stroke="#111" stroke-width="1.15"/>
<circle cx="166.30" cy="279.40" r="1.95" fill="#fff" stroke="#111" stroke-width="1.15"/>
<circle cx="173.00" cy="279.40" r="1.95" fill="#fff" stroke="#111" stroke-width="1.15"/>
<circle cx="172.80" cy="306.10" r="1.95" fill="#fff" stroke="#111" stroke-width="1.15"/>
<circle cx="172.80" cy="315.00" r="1.95" fill="#fff" stroke="#111" stroke-width="1.15"/>
<line x1="166.20" y1="337.20" x2="178.70" y2="337.20" stroke="#1a1a1a" stroke-width="1.4" stroke-linecap="butt"/>
<circle cx="172.50" cy="350.60" r="1.95" fill="#fff" stroke="#111" stroke-width="1.15"/>
<circle cx="176.40" cy="350.60" r="1.95" fill="#fff" stroke="#111" stroke-width="1.15"/>
<circle cx="172.80" cy="359.50" r="1.95" fill="#fff" stroke="#111" stroke-width="1.15"/>
<circle cx="169.30" cy="368.40" r="1.95" fill="#fff" stroke="#111" stroke-width="1.15"/>
<circle cx="173.40" cy="368.40" r="1.95" fill="#fff" stroke="#111" stroke-width="1.15"/>
<circle cx="176.40" cy="368.40" r="1.95" fill="#fff" stroke="#111" stroke-width="1.15"/>
<circle cx="187.80" cy="368.40" r="1.9" fill="#555" stroke="#111" stroke-width="1.15"/>
<circle cx="189.80" cy="368.40" r="1.9" fill="#555" stroke="#111" stroke-width="1.15"/>
<circle cx="191.80" cy="368.40" r="1.9" fill="#555" stroke="#111" stroke-width="1.15"/>
<circle cx="193.80" cy="368.40" r="1.9" fill="#555" stroke="#111" stroke-width="1.15"/>
<circle cx="195.20" cy="368.40" r="1.9" fill="#555" stroke="#111" stroke-width="1.15"/>
<circle cx="206.30" cy="279.40" r="1.9" fill="#333" stroke="#111" stroke-width="1.15"/>
<circle cx="209.00" cy="279.40" r="1.9" fill="#333" stroke="#111" stroke-width="1.15"/>
<circle cx="211.70" cy="279.40" r="1.9" fill="#333" stroke="#111" stroke-width="1.15"/>
<circle cx="214.40" cy="279.40" r="1.9" fill="#333" stroke="#111" stroke-width="1.15"/>
<circle cx="210.40" cy="288.30" r="1.95" fill="#fff" stroke="#111" stroke-width="1.15"/>
<circle cx="210.40" cy="315.00" r="1.95" fill="#fff" stroke="#111" stroke-width="1.15"/>
<line x1="203.70" y1="306.00" x2="216.10" y2="306.00" stroke="#1a1a1a" stroke-width="1.4" stroke-linecap="butt"/>
<circle cx="203.30" cy="332.80" r="1.95" fill="#fff" stroke="#111" stroke-width="1.15"/>
<circle cx="210.40" cy="332.80" r="1.95" fill="#fff" stroke="#111" stroke-width="1.15"/>
<circle cx="210.00" cy="368.40" r="1.95" fill="#fff" stroke="#111" stroke-width="1.15"/>
<circle cx="213.60" cy="368.40" r="1.95" fill="#fff" stroke="#111" stroke-width="1.15"/>
<path d="M155.60,447.40 Q155.60,449.20 157.20,449.20 L172.00,449.20 Q173.60,449.20 173.60,447.40" fill="none" stroke="#333" stroke-width="1.0"/>
<text x="165.10" y="457.20" font-size="7.9" font-weight="normal" text-anchor="middle" fill="#222" stroke="#222" stroke-width="0.12">0.043</text>
<path d="M192.80,447.40 Q192.80,449.20 194.40,449.20 L208.50,449.20 Q210.10,449.20 210.10,447.40" fill="none" stroke="#333" stroke-width="1.0"/>
<text x="201.95" y="457.20" font-size="7.9" font-weight="normal" text-anchor="middle" fill="#222" stroke="#222" stroke-width="0.12">0.007</text>
<path d="M173.10,463.50 Q173.10,465.30 174.70,465.30 L207.40,465.30 Q209.00,465.30 209.00,463.50" fill="none" stroke="#333" stroke-width="1.0"/>
<text x="192.95" y="474.00" font-size="7.9" font-weight="normal" text-anchor="middle" fill="#222" stroke="#222" stroke-width="0.12">0.083</text>
<line x1="258.10" y1="261.30" x2="258.10" y2="373.60" stroke="#111" stroke-width="1.9" stroke-linecap="butt"/>
<line x1="258.10" y1="372.90" x2="332.70" y2="372.90" stroke="#111" stroke-width="1.9" stroke-linecap="butt"/>
<line x1="254.10" y1="372.90" x2="258.10" y2="372.90" stroke="#111" stroke-width="1.5" stroke-linecap="butt"/>
<text x="251.20" y="375.30" font-size="8.7" font-weight="bold" text-anchor="end" fill="#111" stroke="#111" stroke-width="0.33">0</text>
<line x1="255.80" y1="354.30" x2="258.10" y2="354.30" stroke="#111" stroke-width="1.5" stroke-linecap="butt"/>
<line x1="254.10" y1="335.70" x2="258.10" y2="335.70" stroke="#111" stroke-width="1.5" stroke-linecap="butt"/>
<text x="251.20" y="338.10" font-size="8.7" font-weight="bold" text-anchor="end" fill="#111" stroke="#111" stroke-width="0.33">2</text>
<line x1="255.80" y1="317.10" x2="258.10" y2="317.10" stroke="#111" stroke-width="1.5" stroke-linecap="butt"/>
<line x1="254.10" y1="298.50" x2="258.10" y2="298.50" stroke="#111" stroke-width="1.5" stroke-linecap="butt"/>
<text x="251.20" y="300.90" font-size="8.7" font-weight="bold" text-anchor="end" fill="#111" stroke="#111" stroke-width="0.33">4</text>
<line x1="255.80" y1="279.90" x2="258.10" y2="279.90" stroke="#111" stroke-width="1.5" stroke-linecap="butt"/>
<line x1="254.10" y1="261.30" x2="258.10" y2="261.30" stroke="#111" stroke-width="1.5" stroke-linecap="butt"/>
<text x="251.20" y="263.70" font-size="8.7" font-weight="bold" text-anchor="end" fill="#111" stroke="#111" stroke-width="0.33">6</text>
<line x1="267.90" y1="372.90" x2="267.90" y2="375.90" stroke="#111" stroke-width="1.5" stroke-linecap="butt"/>
<line x1="286.20" y1="372.90" x2="286.20" y2="375.90" stroke="#111" stroke-width="1.5" stroke-linecap="butt"/>
<line x1="304.80" y1="372.90" x2="304.80" y2="375.90" stroke="#111" stroke-width="1.5" stroke-linecap="butt"/>
<line x1="323.30" y1="372.90" x2="323.30" y2="375.90" stroke="#111" stroke-width="1.5" stroke-linecap="butt"/>
<text x="293.10" y="246.70" font-size="10.3" font-weight="bold" text-anchor="middle" fill="#111" stroke="#111" stroke-width="0.33">liver</text>
<text x="238.30" y="314.20" font-size="9.4" font-weight="bold" text-anchor="middle" fill="#111" stroke="#111" stroke-width="0.33" transform="rotate(-90 238.30 314.20)">Pathology score</text>
<text x="271.30" y="381.10" font-size="9.3" font-weight="bold" text-anchor="end" fill="#111" stroke="#111" stroke-width="0.33" transform="rotate(-90 271.30 381.10)">Tg- BM alone</text>
<text x="289.60" y="379.50" font-size="9.3" font-weight="bold" text-anchor="end" fill="#111" stroke="#111" stroke-width="0.33" transform="rotate(-90 289.60 379.50)">Tg- BM/CD8</text>
<text x="308.20" y="381.10" font-size="9.3" font-weight="bold" text-anchor="end" fill="#111" stroke="#111" stroke-width="0.33" transform="rotate(-90 308.20 381.10)">Tg+ BM alone</text>
<text x="326.70" y="379.50" font-size="9.3" font-weight="bold" text-anchor="end" fill="#111" stroke="#111" stroke-width="0.33" transform="rotate(-90 326.70 379.50)">Tg+ BM/CD8</text>
<circle cx="264.00" cy="326.70" r="1.95" fill="#fff" stroke="#111" stroke-width="1.15"/>
<circle cx="267.90" cy="331.20" r="1.95" fill="#fff" stroke="#111" stroke-width="1.15"/>
<circle cx="271.20" cy="331.20" r="1.95" fill="#fff" stroke="#111" stroke-width="1.15"/>
<circle cx="267.90" cy="349.20" r="1.95" fill="#fff" stroke="#111" stroke-width="1.15"/>
<circle cx="267.90" cy="358.80" r="1.95" fill="#fff" stroke="#111" stroke-width="1.15"/>
<line x1="261.20" y1="338.80" x2="273.70" y2="338.80" stroke="#1a1a1a" stroke-width="1.4" stroke-linecap="butt"/>
<circle cx="286.00" cy="266.00" r="1.95" fill="#fff" stroke="#111" stroke-width="1.15"/>
<circle cx="279.40" cy="293.70" r="1.95" fill="#fff" stroke="#111" stroke-width="1.15"/>
<circle cx="286.00" cy="293.70" r="1.95" fill="#fff" stroke="#111" stroke-width="1.15"/>
<circle cx="289.40" cy="303.10" r="1.95" fill="#fff" stroke="#111" stroke-width="1.15"/>
<circle cx="286.00" cy="307.50" r="1.95" fill="#fff" stroke="#111" stroke-width="1.15"/>
<circle cx="279.40" cy="321.00" r="1.95" fill="#fff" stroke="#111" stroke-width="1.15"/>
<circle cx="286.00" cy="326.30" r="1.95" fill="#fff" stroke="#111" stroke-width="1.15"/>
<circle cx="286.00" cy="335.60" r="1.95" fill="#fff" stroke="#111" stroke-width="1.15"/>
<line x1="279.00" y1="287.60" x2="291.70" y2="287.60" stroke="#1a1a1a" stroke-width="1.4" stroke-linecap="butt"/>
<circle cx="304.30" cy="331.00" r="1.95" fill="#fff" stroke="#111" stroke-width="1.15"/>
<circle cx="304.40" cy="339.80" r="1.95" fill="#fff" stroke="#111" stroke-width="1.15"/>
<circle cx="297.70" cy="349.20" r="1.95" fill="#fff" stroke="#111" stroke-width="1.15"/>
<circle cx="304.40" cy="349.20" r="1.95" fill="#fff" stroke="#111" stroke-width="1.15"/>
<circle cx="304.40" cy="358.80" r="1.95" fill="#fff" stroke="#111" stroke-width="1.15"/>
<line x1="297.70" y1="345.40" x2="310.20" y2="345.40" stroke="#1a1a1a" stroke-width="1.4" stroke-linecap="butt"/>
<circle cx="323.40" cy="275.40" r="1.95" fill="#fff" stroke="#111" stroke-width="1.15"/>
<circle cx="323.40" cy="293.70" r="1.95" fill="#fff" stroke="#111" stroke-width="1.15"/>
<circle cx="323.40" cy="312.50" r="1.95" fill="#fff" stroke="#111" stroke-width="1.15"/>
<circle cx="323.40" cy="321.00" r="1.95" fill="#fff" stroke="#111" stroke-width="1.15"/>
<circle cx="326.60" cy="321.00" r="1.95" fill="#fff" stroke="#111" stroke-width="1.15"/>
<circle cx="326.60" cy="326.30" r="1.95" fill="#fff" stroke="#111" stroke-width="1.15"/>
<circle cx="316.80" cy="331.00" r="1.95" fill="#fff" stroke="#111" stroke-width="1.15"/>
<circle cx="323.40" cy="331.00" r="1.95" fill="#fff" stroke="#111" stroke-width="1.15"/>
<circle cx="323.40" cy="339.90" r="1.95" fill="#fff" stroke="#111" stroke-width="1.15"/>
<circle cx="326.60" cy="339.90" r="1.95" fill="#fff" stroke="#111" stroke-width="1.15"/>
<circle cx="323.40" cy="349.20" r="1.95" fill="#fff" stroke="#111" stroke-width="1.15"/>
<circle cx="323.40" cy="358.80" r="1.95" fill="#fff" stroke="#111" stroke-width="1.15"/>
<line x1="316.20" y1="324.40" x2="324.70" y2="324.40" stroke="#1a1a1a" stroke-width="1.4" stroke-linecap="butt"/>
<path d="M268.50,447.40 Q268.50,449.20 270.10,449.20 L285.60,449.20 Q287.20,449.20 287.20,447.40" fill="none" stroke="#333" stroke-width="1.0"/>
<text x="278.35" y="457.20" font-size="7.9" font-weight="normal" text-anchor="middle" fill="#222" stroke="#222" stroke-width="0.12">0.004</text>
<path d="M306.00,447.40 Q306.00,449.20 307.60,449.20 L322.30,449.20 Q323.90,449.20 323.90,447.40" fill="none" stroke="#333" stroke-width="1.0"/>
<text x="315.45" y="457.20" font-size="7.9" font-weight="normal" text-anchor="middle" fill="#222" stroke="#222" stroke-width="0.12">0.029</text>
<path d="M286.50,463.70 Q286.50,465.50 288.10,465.50 L320.80,465.50 Q322.40,465.50 322.40,463.70" fill="none" stroke="#333" stroke-width="1.0"/>
<text x="306.35" y="474.00" font-size="7.9" font-weight="normal" text-anchor="middle" fill="#222" stroke="#222" stroke-width="0.12">0.002</text>
<line x1="371.40" y1="261.32" x2="371.40" y2="373.30" stroke="#111" stroke-width="1.9" stroke-linecap="butt"/>
<line x1="371.40" y1="372.60" x2="445.70" y2="372.60" stroke="#111" stroke-width="1.9" stroke-linecap="butt"/>
<line x1="367.40" y1="368.20" x2="371.40" y2="368.20" stroke="#111" stroke-width="1.5" stroke-linecap="butt"/>
<text x="364.00" y="370.60" font-size="8.7" font-weight="bold" text-anchor="end" fill="#111" stroke="#111" stroke-width="0.33">0</text>
<line x1="369.10" y1="354.84" x2="371.40" y2="354.84" stroke="#111" stroke-width="1.5" stroke-linecap="butt"/>
<line x1="367.40" y1="341.48" x2="371.40" y2="341.48" stroke="#111" stroke-width="1.5" stroke-linecap="butt"/>
<text x="364.00" y="343.88" font-size="8.7" font-weight="bold" text-anchor="end" fill="#111" stroke="#111" stroke-width="0.33">2</text>
<line x1="369.10" y1="328.12" x2="371.40" y2="328.12" stroke="#111" stroke-width="1.5" stroke-linecap="butt"/>
<line x1="367.40" y1="314.76" x2="371.40" y2="314.76" stroke="#111" stroke-width="1.5" stroke-linecap="butt"/>
<text x="364.00" y="317.16" font-size="8.7" font-weight="bold" text-anchor="end" fill="#111" stroke="#111" stroke-width="0.33">4</text>
<line x1="369.10" y1="301.40" x2="371.40" y2="301.40" stroke="#111" stroke-width="1.5" stroke-linecap="butt"/>
<line x1="367.40" y1="288.04" x2="371.40" y2="288.04" stroke="#111" stroke-width="1.5" stroke-linecap="butt"/>
<text x="364.00" y="290.44" font-size="8.7" font-weight="bold" text-anchor="end" fill="#111" stroke="#111" stroke-width="0.33">6</text>
<line x1="369.10" y1="274.68" x2="371.40" y2="274.68" stroke="#111" stroke-width="1.5" stroke-linecap="butt"/>
<line x1="367.40" y1="261.32" x2="371.40" y2="261.32" stroke="#111" stroke-width="1.5" stroke-linecap="butt"/>
<text x="364.00" y="263.72" font-size="8.7" font-weight="bold" text-anchor="end" fill="#111" stroke="#111" stroke-width="0.33">8</text>
<line x1="381.00" y1="372.60" x2="381.00" y2="375.60" stroke="#111" stroke-width="1.5" stroke-linecap="butt"/>
<line x1="399.20" y1="372.60" x2="399.20" y2="375.60" stroke="#111" stroke-width="1.5" stroke-linecap="butt"/>
<line x1="417.40" y1="372.60" x2="417.40" y2="375.60" stroke="#111" stroke-width="1.5" stroke-linecap="butt"/>
<line x1="436.60" y1="372.60" x2="436.60" y2="375.60" stroke="#111" stroke-width="1.5" stroke-linecap="butt"/>
<text x="404.10" y="246.70" font-size="10.3" font-weight="bold" text-anchor="middle" fill="#111" stroke="#111" stroke-width="0.33">colon</text>
<text x="351.60" y="315.40" font-size="9.3" font-weight="bold" text-anchor="middle" fill="#111" stroke="#111" stroke-width="0.33" transform="rotate(-90 351.60 315.40)">pathology score</text>
<text x="384.40" y="381.50" font-size="9.3" font-weight="bold" text-anchor="end" fill="#111" stroke="#111" stroke-width="0.33" transform="rotate(-90 384.40 381.50)">Tg- BM alone</text>
<text x="402.60" y="379.80" font-size="9.3" font-weight="bold" text-anchor="end" fill="#111" stroke="#111" stroke-width="0.33" transform="rotate(-90 402.60 379.80)">Tg- BM/CD8</text>
<text x="420.80" y="381.50" font-size="9.3" font-weight="bold" text-anchor="end" fill="#111" stroke="#111" stroke-width="0.33" transform="rotate(-90 420.80 381.50)">Tg+ BM alone</text>
<text x="440.00" y="379.80" font-size="9.3" font-weight="bold" text-anchor="end" fill="#111" stroke="#111" stroke-width="0.33" transform="rotate(-90 440.00 379.80)">Tg+ BM/CD8</text>
<circle cx="380.90" cy="354.70" r="1.95" fill="#fff" stroke="#111" stroke-width="1.15"/>
<circle cx="382.80" cy="361.00" r="1.95" fill="#222" stroke="#111" stroke-width="1.15"/>
<circle cx="384.70" cy="361.00" r="1.95" fill="#222" stroke="#111" stroke-width="1.15"/>
<line x1="375.00" y1="361.00" x2="386.50" y2="361.00" stroke="#1a1a1a" stroke-width="1.4" stroke-linecap="butt"/>
<polygon points="374.9,361.1 377.5,358.8 380.1,361.1 377.5,363.5" fill="#8a8a8a" stroke="#111" stroke-width="1.1" stroke-linejoin="round"/>
<circle cx="380.90" cy="367.30" r="1.95" fill="#fff" stroke="#111" stroke-width="1.15"/>
<circle cx="399.20" cy="276.40" r="1.95" fill="#fff" stroke="#111" stroke-width="1.15"/>
<circle cx="392.50" cy="292.10" r="1.95" fill="#fff" stroke="#111" stroke-width="1.15"/>
<circle cx="399.20" cy="293.40" r="1.95" fill="#fff" stroke="#111" stroke-width="1.15"/>
<circle cx="402.80" cy="291.50" r="1.95" fill="#fff" stroke="#111" stroke-width="1.15"/>
<circle cx="399.20" cy="318.20" r="1.95" fill="#fff" stroke="#111" stroke-width="1.15"/>
<circle cx="399.20" cy="328.20" r="1.95" fill="#fff" stroke="#111" stroke-width="1.15"/>
<circle cx="399.20" cy="342.80" r="1.95" fill="#fff" stroke="#111" stroke-width="1.15"/>
<circle cx="402.40" cy="353.80" r="1.95" fill="#fff" stroke="#111" stroke-width="1.15"/>
<circle cx="392.40" cy="358.30" r="1.95" fill="#fff" stroke="#111" stroke-width="1.15"/>
<circle cx="399.20" cy="360.10" r="1.95" fill="#fff" stroke="#111" stroke-width="1.15"/>
<circle cx="399.20" cy="367.20" r="1.95" fill="#fff" stroke="#111" stroke-width="1.15"/>
<line x1="392.00" y1="325.30" x2="405.10" y2="325.30" stroke="#1a1a1a" stroke-width="1.4" stroke-linecap="butt"/>
<circle cx="410.80" cy="359.70" r="1.95" fill="#fff" stroke="#111" stroke-width="1.15"/>
<circle cx="417.00" cy="359.70" r="1.95" fill="#fff" stroke="#111" stroke-width="1.15"/>
<circle cx="420.60" cy="357.90" r="1.95" fill="#fff" stroke="#111" stroke-width="1.15"/>
<circle cx="420.60" cy="361.50" r="1.95" fill="#fff" stroke="#111" stroke-width="1.15"/>
<circle cx="417.40" cy="367.20" r="1.95" fill="#fff" stroke="#111" stroke-width="1.15"/>
<line x1="410.00" y1="360.30" x2="422.00" y2="360.30" stroke="#333" stroke-width="1.0" stroke-linecap="butt"/>
<circle cx="436.60" cy="288.50" r="1.95" fill="#fff" stroke="#111" stroke-width="1.15"/>
<circle cx="440.20" cy="336.50" r="1.95" fill="#fff" stroke="#111" stroke-width="1.15"/>
<circle cx="436.60" cy="339.60" r="1.95" fill="#fff" stroke="#111" stroke-width="1.15"/>
<circle cx="433.10" cy="357.40" r="1.95" fill="#fff" stroke="#111" stroke-width="1.15"/>
<circle cx="439.90" cy="357.40" r="1.95" fill="#fff" stroke="#111" stroke-width="1.15"/>
<circle cx="429.90" cy="359.70" r="1.95" fill="#fff" stroke="#111" stroke-width="1.15"/>
<circle cx="433.10" cy="361.50" r="1.95" fill="#fff" stroke="#111" stroke-width="1.15"/>
<circle cx="437.50" cy="361.50" r="1.95" fill="#fff" stroke="#111" stroke-width="1.15"/>
<circle cx="440.20" cy="361.50" r="1.95" fill="#fff" stroke="#111" stroke-width="1.15"/>
<circle cx="436.60" cy="367.20" r="1.95" fill="#fff" stroke="#111" stroke-width="1.15"/>
<line x1="430.40" y1="349.00" x2="442.90" y2="349.00" stroke="#1a1a1a" stroke-width="1.4" stroke-linecap="butt"/>
<path d="M381.50,447.40 Q381.50,449.20 383.10,449.20 L398.20,449.20 Q399.80,449.20 399.80,447.40" fill="none" stroke="#333" stroke-width="1.0"/>
<text x="391.15" y="457.20" font-size="7.9" font-weight="normal" text-anchor="middle" fill="#222" stroke="#222" stroke-width="0.12">0.010</text>
<path d="M418.50,447.40 Q418.50,449.20 420.10,449.20 L435.20,449.20 Q436.80,449.20 436.80,447.40" fill="none" stroke="#333" stroke-width="1.0"/>
<text x="428.15" y="457.20" font-size="7.9" font-weight="normal" text-anchor="middle" fill="#222" stroke="#222" stroke-width="0.12">0.181</text>
<path d="M399.80,463.50 Q399.80,465.30 401.40,465.30 L434.40,465.30 Q436.00,465.30 436.00,463.50" fill="none" stroke="#333" stroke-width="1.0"/>
<text x="419.80" y="474.00" font-size="7.9" font-weight="normal" text-anchor="middle" fill="#222" stroke="#222" stroke-width="0.12">0.071</text>
</svg>
</body></html>
